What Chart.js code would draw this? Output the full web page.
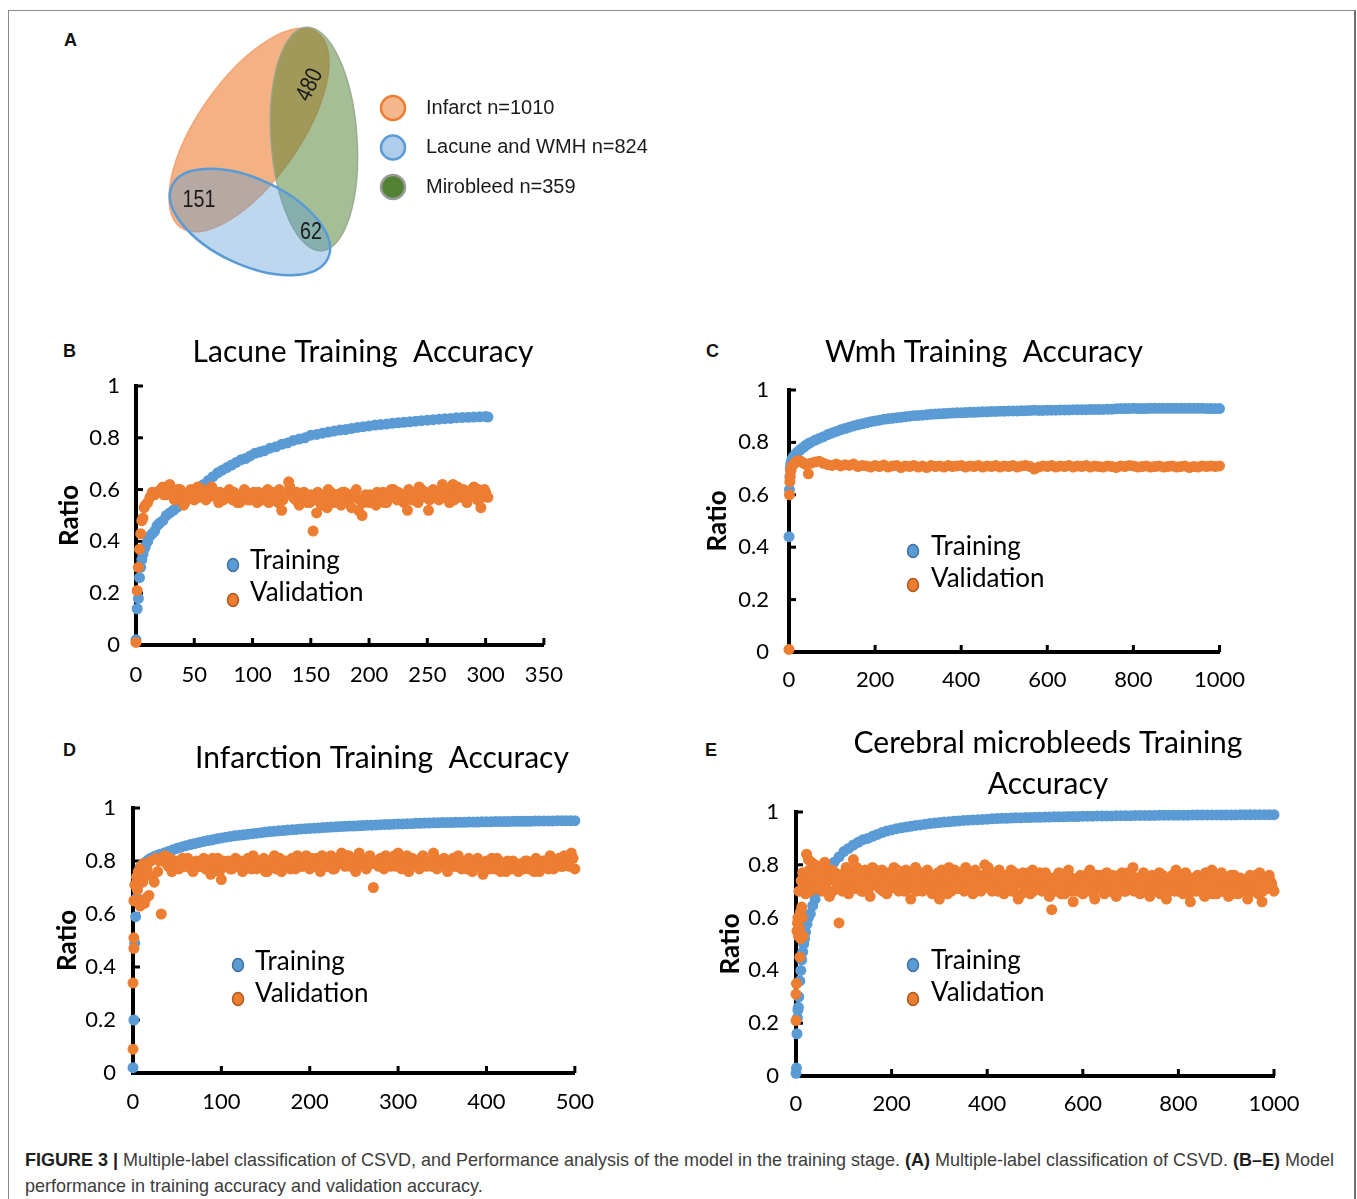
<!DOCTYPE html>
<html>
<head>
<meta charset="utf-8">
<title>Figure 3 - CSVD classification and training accuracy</title>
<script src="https://cdn.jsdelivr.net/npm/chart.js@4.4.1/dist/chart.umd.min.js"></script>
<style>
html,body{margin:0;padding:0;background:#fff;}
body{width:1357px;height:1199px;position:relative;overflow:hidden;font-family:"Liberation Sans",Arial,sans-serif;}
.frame{position:absolute;left:8px;top:10px;width:1348px;height:1260px;box-sizing:border-box;border:1px solid #8a8a8a;border-right:2px solid #6f6f6f;}
.panel{position:absolute;font:bold 18px/1 "Liberation Sans",Arial,sans-serif;color:#111;}
canvas{position:absolute;}
.caption{position:absolute;left:25px;top:1147px;font:18.5px/26px "Liberation Sans",Arial,sans-serif;color:#3c3c3c;white-space:nowrap;transform-origin:0 0;}
.caption b{color:#1e1e1e;}
</style>
</head>
<body>

<div class="frame"></div>

<div class="panel" style="left:64px;top:31px">A</div>
<div class="panel" style="left:63px;top:342px">B</div>
<div class="panel" style="left:706px;top:342px">C</div>
<div class="panel" style="left:63px;top:741px">D</div>
<div class="panel" style="left:705px;top:741px">E</div>

<canvas id="vennChart"></canvas>
<canvas id="lacuneChart"></canvas>
<canvas id="wmhChart"></canvas>
<canvas id="infarctChart"></canvas>
<canvas id="cmbChart"></canvas>

<div class="caption" id="caption"><span id="captionLine1"><b>FIGURE 3 |</b> Multiple-label classification of CSVD, and Performance analysis of the model in the training stage. <b>(A)</b> Multiple-label classification of CSVD. <b>(B–E)</b> Model</span><br>performance in training accuracy and validation accuracy.</div>

<script>
/* =====================================
   FIGURE 3 DATA
===================================== */

const seriesNames = ["Training", "Validation"];
const ratioTicks = [0, 0.2, 0.4, 0.6, 0.8, 1];

const vennLabels = ["Infarct", "Lacune and WMH", "Mirobleed"];
const vennTotals = [1010, 824, 359];
const vennShared = [480, 151, 62];   // infarct+mirobleed, infarct+lacune, lacune+mirobleed

/* ---- B : Lacune ---- */

const lacuneTicks = [0, 50, 100, 150, 200, 250, 300, 350];

const lacuneTrainEpochs = [
    0,1,2,3,4,5,6,7,8,10,
    12,14,16,18,20,23,26,29,32,35,
    38,41,44,47,50,54,58,62,66,70,
    74,78,82,86,90,94,98,102,106,110,
    115,120,125,130,135,140,145,150,155,160,
    165,170,175,180,185,190,195,200,205,210,
    215,220,225,230,235,240,245,250,255,260,
    265,270,275,280,285,290,295,300,302
];
const lacuneTrain = [
    0.02,0.14,0.18,0.26,0.30,0.33,0.35,0.37,0.38,0.40,
    0.42,0.43,0.44,0.46,0.47,0.48,0.50,0.51,0.52,0.53,
    0.55,0.56,0.57,0.58,0.59,0.61,0.62,0.635,0.65,0.665,
    0.675,0.685,0.695,0.705,0.715,0.72,0.73,0.74,0.745,0.75,
    0.76,0.765,0.775,0.78,0.79,0.795,0.80,0.81,0.813,0.818,
    0.822,0.826,0.83,0.832,0.836,0.84,0.843,0.846,0.849,0.851,
    0.853,0.856,0.858,0.86,0.862,0.864,0.866,0.868,0.87,0.872,
    0.874,0.875,0.877,0.878,0.879,0.88,0.881,0.882,0.88
];
const lacuneValEpochs = [
    0,1,2,3,4,5,6,7,8,10,12,14,16,18,
    20,23,26,29,32,35,38,41,44,47,
    50,53,56,59,62,65,68,71,74,77,
    80,83,86,89,92,95,98,101,104,107,
    110,113,116,119,122,125,128,131,134,137,
    140,143,146,149,152,155,158,161,164,167,
    170,173,176,179,182,185,188,191,194,197,
    200,203,206,209,212,215,218,221,224,227,
    230,233,236,239,242,245,248,251,254,257,
    260,263,266,269,272,275,278,281,284,287,
    290,293,296,299,302
];
const lacuneVal = [
    0.01,0.21,0.30,0.37,0.43,0.48,0.49,0.53,0.54,0.55,0.57,0.59,0.58,0.59,
    0.59,0.61,0.58,0.62,0.59,0.57,0.60,0.54,0.58,0.60,
    0.56,0.61,0.58,0.59,0.57,0.61,0.59,0.55,0.58,0.57,
    0.60,0.56,0.58,0.55,0.57,0.58,0.56,0.59,0.55,0.58,
    0.57,0.60,0.56,0.58,0.55,0.52,0.58,0.63,0.59,0.56,
    0.54,0.58,0.57,0.55,0.44,0.51,0.58,0.56,0.53,0.59,
    0.55,0.58,0.54,0.59,0.56,0.53,0.57,0.52,0.50,0.58,
    0.55,0.57,0.54,0.56,0.59,0.55,0.57,0.60,0.56,0.58,
    0.55,0.52,0.59,0.57,0.55,0.60,0.58,0.52,0.57,0.59,
    0.56,0.62,0.58,0.55,0.62,0.59,0.57,0.60,0.55,0.58,
    0.61,0.56,0.53,0.60,0.57
];
// the epochs in between
const lacuneValEpochs2 = [
    21,24,27,30,33,36,39,42,45,48,
    51,54,57,60,63,66,69,72,75,78,
    81,84,87,90,93,96,99,102,105,108,
    111,114,117,120,123,126,129,132,135,138,
    141,144,147,150,153,156,159,162,165,168,
    171,174,177,180,183,186,189,192,195,198,
    201,204,207,210,213,216,219,222,225,228,
    231,234,237,240,243,246,249,252,255,258,
    261,264,267,270,273,276,279,282,285,288,
    291,294,297,300
];
const lacuneVal2 = [
    0.60,0.58,0.61,0.59,0.56,0.60,0.58,0.55,0.59,0.57,
    0.59,0.57,0.60,0.56,0.58,0.60,0.57,0.59,0.56,0.58,
    0.57,0.59,0.55,0.58,0.60,0.56,0.58,0.57,0.59,0.56,
    0.58,0.55,0.59,0.57,0.60,0.56,0.58,0.61,0.57,0.59,
    0.57,0.59,0.55,0.58,0.56,0.59,0.54,0.57,0.60,0.56,
    0.58,0.56,0.59,0.55,0.58,0.57,0.60,0.56,0.55,0.57,
    0.58,0.56,0.59,0.57,0.55,0.58,0.60,0.57,0.59,0.56,
    0.58,0.60,0.56,0.58,0.61,0.57,0.59,0.56,0.60,0.58,
    0.59,0.57,0.60,0.58,0.56,0.61,0.58,0.59,0.57,0.60,
    0.58,0.60,0.57,0.59
];

/* ---- C : Wmh ---- */

const wmhTicks = [0, 200, 400, 600, 800, 1000];

const wmhEpochs = [
    0,1,2,3,4,5,7,10,13,16,
    20,25,30,35,40,45,50,60,70,80,
    90,100,110,120,130,140,150,160,170,180,
    190,200,210,220,230,240,250,260,270,280,
    290,300,310,320,330,340,350,360,370,380,
    390,400,410,420,430,440,450,460,470,480,
    490,500,510,520,530,540,550,560,570,580,
    590,600,610,620,630,640,650,660,670,680,
    690,700,710,720,730,740,750,760,770,780,
    790,800,810,820,830,840,850,860,870,880,
    890,900,910,920,930,940,950,960,970,980,
    990,1000
];
const wmhTrain = [
    0.44,0.62,0.67,0.70,0.715,0.725,0.735,0.745,0.75,0.757,
    0.763,0.77,0.777,0.783,0.79,0.795,0.80,0.808,0.815,0.822,
    0.83,0.836,0.842,0.848,0.853,0.858,0.863,0.867,0.871,0.875,
    0.879,0.882,0.885,0.888,0.89,0.892,0.894,0.896,0.898,0.90,
    0.902,0.903,0.904,0.906,0.907,0.908,0.909,0.91,0.911,0.912,
    0.913,0.913,0.914,0.915,0.915,0.916,0.917,0.917,0.918,0.918,
    0.919,0.919,0.92,0.92,0.92,0.921,0.921,0.922,0.923,0.922,
    0.922,0.923,0.923,0.923,0.924,0.924,0.924,0.925,0.925,0.925,
    0.925,0.926,0.926,0.926,0.926,0.927,0.927,0.928,0.929,0.929,
    0.929,0.93,0.929,0.929,0.929,0.93,0.93,0.93,0.93,0.93,
    0.93,0.93,0.93,0.93,0.93,0.93,0.93,0.93,0.929,0.929,
    0.929,0.929
];
const wmhVal = [
    0.01,0.60,0.65,0.67,0.69,0.70,0.71,0.715,0.72,0.725,
    0.73,0.73,0.725,0.72,0.715,0.68,0.72,0.725,0.728,0.72,
    0.715,0.712,0.718,0.71,0.715,0.712,0.718,0.708,0.712,0.71,
    0.706,0.712,0.708,0.714,0.706,0.71,0.712,0.704,0.71,0.708,
    0.712,0.706,0.71,0.704,0.712,0.708,0.71,0.706,0.712,0.708,
    0.71,0.712,0.706,0.71,0.708,0.712,0.706,0.71,0.708,0.712,
    0.706,0.71,0.708,0.712,0.706,0.71,0.712,0.708,0.698,0.706,
    0.71,0.708,0.712,0.706,0.71,0.708,0.712,0.706,0.71,0.708,
    0.712,0.706,0.71,0.708,0.706,0.71,0.708,0.704,0.71,0.708,
    0.712,0.71,0.706,0.708,0.71,0.706,0.708,0.71,0.706,0.708,
    0.71,0.706,0.708,0.71,0.704,0.708,0.706,0.71,0.708,0.71,
    0.708,0.71
];

/* ---- D : Infarction ---- */

const infarctTicks = [0, 100, 200, 300, 400, 500];

const infarctTrainEpochs = [
    0,1,2,3,4,5,6,7,8,10,
    12,14,16,18,20,23,26,30,35,40,
    45,50,55,60,65,70,75,80,85,90,
    95,100,105,110,115,120,125,130,135,140,
    145,150,155,160,165,170,175,180,185,190,
    195,200,205,210,215,220,225,230,235,240,
    245,250,255,260,265,270,275,280,285,290,
    295,300,305,310,315,320,325,330,335,340,
    345,350,355,360,365,370,375,380,385,390,
    395,400,405,410,415,420,425,430,435,440,
    445,450,455,460,465,470,475,480,485,490,
    495,500
];
const infarctTrain = [
    0.02,0.20,0.49,0.59,0.66,0.70,0.74,0.76,0.775,0.785,
    0.79,0.795,0.80,0.806,0.81,0.815,0.82,0.825,0.83,0.836,
    0.842,0.848,0.853,0.858,0.862,0.866,0.87,0.874,0.877,0.88,
    0.884,0.887,0.89,0.892,0.895,0.897,0.899,0.901,0.903,0.905,
    0.907,0.909,0.911,0.912,0.914,0.915,0.917,0.918,0.919,0.921,
    0.922,0.923,0.924,0.925,0.926,0.927,0.928,0.929,0.93,0.931,
    0.932,0.932,0.933,0.934,0.935,0.935,0.936,0.937,0.938,0.938,
    0.939,0.94,0.94,0.941,0.941,0.942,0.942,0.943,0.943,0.944,
    0.944,0.945,0.945,0.945,0.946,0.946,0.946,0.947,0.947,0.947,
    0.948,0.948,0.948,0.949,0.949,0.949,0.949,0.95,0.95,0.95,
    0.95,0.95,0.951,0.951,0.951,0.951,0.951,0.952,0.952,0.952,
    0.952,0.952
];
const infarctValEpochs = [
    0,0,1,1,1,2,3,4,5,6,7,8,9,10,
    11,12,13,14,15,16,18,20,22,24,26,28,30,32,
    36,40,44,48,52,56,60,64,68,72,
    76,80,84,88,92,96,100,104,108,112,
    116,120,124,128,132,136,140,144,148,152,
    156,160,164,168,172,176,180,184,188,192,
    196,200,204,208,212,216,220,224,228,232,
    236,240,244,248,252,256,260,264,268,272,
    276,280,284,288,292,296,300,304,308,312,
    316,320,324,328,332,336,340,344,348,352,
    356,360,364,368,372,376,380,384,388,392,
    396,400,404,408,412,416,420,424,428,432,
    436,440,444,448,452,456,460,464,468,472,
    476,480,484,488,492,496,500
];
const infarctVal = [
    0.09,0.34,0.47,0.51,0.65,0.71,0.65,0.74,0.69,0.76,0.73,0.63,0.78,0.65,
    0.72,0.79,0.64,0.75,0.66,0.77,0.67,0.80,0.74,0.72,0.81,0.76,0.80,0.60,
    0.82,0.78,0.76,0.80,0.77,0.81,0.78,0.79,0.76,0.80,
    0.78,0.81,0.77,0.75,0.79,0.81,0.73,0.78,0.80,0.77,
    0.81,0.79,0.76,0.80,0.78,0.82,0.77,0.79,0.81,0.76,
    0.80,0.82,0.78,0.76,0.80,0.79,0.81,0.77,0.80,0.78,
    0.82,0.77,0.79,0.81,0.76,0.80,0.78,0.82,0.77,0.80,
    0.83,0.78,0.82,0.79,0.76,0.83,0.80,0.77,0.82,0.70,
    0.79,0.81,0.77,0.80,0.78,0.82,0.83,0.77,0.80,0.76,
    0.81,0.79,0.77,0.82,0.78,0.80,0.83,0.77,0.79,0.81,
    0.76,0.80,0.78,0.82,0.77,0.79,0.81,0.76,0.80,0.78,
    0.75,0.80,0.77,0.79,0.81,0.76,0.78,0.80,0.77,0.79,
    0.76,0.78,0.80,0.77,0.79,0.81,0.76,0.80,0.78,0.82,
    0.77,0.80,0.78,0.82,0.79,0.83,0.77
];
const infarctValEpochs2 = [
    38,42,46,50,54,58,62,66,70,74,
    78,82,86,90,94,98,102,106,110,114,
    118,122,126,130,134,138,142,146,150,154,
    158,162,166,170,174,178,182,186,190,194,
    198,202,206,210,214,218,222,226,230,234,
    238,242,246,250,254,258,262,266,270,274,
    278,282,286,290,294,298,302,306,310,314,
    318,322,326,330,334,338,342,346,350,354,
    358,362,366,370,374,378,382,386,390,394,
    398,402,406,410,414,418,422,426,430,434,
    438,442,446,450,454,458,462,466,470,474,
    478,482,486,490,494,498
];
const infarctVal2 = [
    0.79,0.81,0.77,0.79,0.80,0.78,0.81,0.77,0.79,0.78,
    0.80,0.77,0.79,0.81,0.78,0.76,0.80,0.79,0.77,0.80,
    0.78,0.80,0.79,0.81,0.77,0.79,0.80,0.78,0.76,0.80,
    0.79,0.77,0.81,0.78,0.80,0.77,0.79,0.82,0.78,0.80,
    0.79,0.81,0.78,0.80,0.82,0.78,0.80,0.77,0.81,0.79,
    0.80,0.82,0.78,0.81,0.79,0.80,0.78,0.81,0.79,0.80,
    0.78,0.80,0.82,0.79,0.81,0.78,0.80,0.79,0.82,0.78,
    0.80,0.78,0.81,0.79,0.80,0.78,0.81,0.79,0.80,0.78,
    0.79,0.81,0.78,0.80,0.79,0.77,0.80,0.78,0.81,0.79,
    0.78,0.79,0.81,0.77,0.80,0.78,0.76,0.79,0.80,0.78,
    0.79,0.77,0.80,0.78,0.76,0.79,0.78,0.80,0.77,0.79,
    0.79,0.81,0.78,0.80,0.78,0.81
];

/* ---- E : Cerebral microbleeds ---- */

const cmbTicks = [0, 200, 400, 600, 800, 1000];

const cmbTrainEpochs = [
    0,1,2,3,4,5,6,8,10,12,
    14,16,18,20,23,26,30,35,40,45,
    50,55,60,65,70,75,80,90,100,110,
    120,130,140,150,160,170,180,190,200,210,
    220,230,240,250,260,270,280,290,300,310,
    320,330,340,350,360,370,380,390,400,410,
    420,430,440,450,460,470,480,490,500,510,
    520,530,540,550,560,570,580,590,600,610,
    620,630,640,650,660,670,680,690,700,710,
    720,730,740,750,760,770,780,790,800,810,
    820,830,840,850,860,870,880,890,900,910,
    920,930,940,950,960,970,980,990,1000
];
const cmbTrain = [
    0.01,0.03,0.16,0.22,0.25,0.26,0.30,0.36,0.40,0.44,
    0.47,0.50,0.52,0.545,0.575,0.60,0.615,0.645,0.67,0.70,
    0.72,0.735,0.75,0.765,0.78,0.795,0.81,0.83,0.85,0.862,
    0.875,0.885,0.895,0.90,0.908,0.915,0.922,0.928,0.932,0.937,
    0.94,0.943,0.946,0.949,0.951,0.954,0.956,0.958,0.96,0.962,
    0.963,0.965,0.966,0.968,0.969,0.97,0.971,0.972,0.973,0.974,
    0.975,0.976,0.976,0.977,0.978,0.978,0.979,0.979,0.98,0.98,
    0.981,0.981,0.982,0.982,0.982,0.983,0.983,0.983,0.984,0.984,
    0.984,0.985,0.985,0.985,0.985,0.986,0.986,0.986,0.986,0.987,
    0.987,0.987,0.987,0.987,0.988,0.988,0.988,0.988,0.988,0.988,
    0.988,0.989,0.989,0.989,0.989,0.989,0.989,0.989,0.989,0.989,
    0.989,0.99,0.99,0.99,0.99,0.99,0.99,0.99,0.99
];
const cmbValEpochs = [
    0,0,1,2,3,4,5,6,7,8,
    9,10,11,12,13,14,15,16,18,20,
    22,24,26,28,30,32,34,36,38,
    40,45,50,55,60,65,70,75,80,85,
    90,95,100,105,110,115,120,125,130,135,
    140,145,150,155,160,165,170,175,180,185,
    190,195,200,205,210,215,220,225,230,235,
    240,245,250,255,260,265,270,275,280,285,
    290,295,300,305,310,315,320,325,330,335,
    340,345,350,355,360,365,370,375,380,385,
    390,395,400,405,410,415,420,425,430,435,
    440,445,450,455,460,465,470,475,480,485,
    490,495,500,505,510,515,520,525,530,535,
    540,545,550,555,560,565,570,575,580,585,
    590,595,600,605,610,615,620,625,630,635,
    640,645,650,655,660,665,670,675,680,685,
    690,695,700,705,710,715,720,725,730,735,
    740,745,750,755,760,765,770,775,780,785,
    790,795,800,805,810,815,820,825,830,835,
    840,845,850,855,860,865,870,875,880,885,
    890,895,900,905,910,915,920,925,930,935,
    940,945,950,955,960,965,970,975,980,985,
    990,995,1000
];
const cmbVal = [
    0.21,0.31,0.35,0.55,0.58,0.60,0.53,0.70,0.56,0.45,
    0.62,0.52,0.74,0.64,0.60,0.77,0.53,0.71,0.75,0.69,
    0.84,0.74,0.82,0.78,0.70,0.81,0.76,0.72,0.79,
    0.80,0.73,0.77,0.70,0.81,0.75,0.68,0.78,0.74,0.71,
    0.58,0.76,0.72,0.79,0.69,0.74,0.82,0.71,0.77,0.73,
    0.70,0.78,0.75,0.68,0.79,0.73,0.76,0.71,0.78,0.74,
    0.69,0.77,0.72,0.79,0.74,0.70,0.76,0.73,0.78,0.71,
    0.67,0.75,0.79,0.72,0.77,0.70,0.74,0.78,0.73,0.69,
    0.76,0.71,0.67,0.78,0.74,0.72,0.79,0.70,0.75,0.73,
    0.77,0.71,0.74,0.79,0.72,0.76,0.69,0.78,0.73,0.75,
    0.71,0.80,0.74,0.77,0.70,0.76,0.72,0.78,0.74,0.69,
    0.75,0.72,0.78,0.70,0.76,0.67,0.73,0.77,0.71,0.75,
    0.69,0.78,0.72,0.74,0.77,0.70,0.75,0.72,0.68,0.63,
    0.74,0.71,0.77,0.69,0.75,0.73,0.78,0.70,0.66,0.74,
    0.72,0.76,0.69,0.75,0.71,0.78,0.73,0.67,0.76,0.72,
    0.74,0.69,0.77,0.71,0.75,0.73,0.68,0.76,0.72,0.74,
    0.70,0.77,0.73,0.79,0.71,0.75,0.69,0.76,0.72,0.74,
    0.68,0.76,0.73,0.70,0.77,0.72,0.74,0.67,0.75,0.71,
    0.73,0.78,0.70,0.75,0.69,0.77,0.72,0.66,0.74,0.71,
    0.76,0.70,0.73,0.68,0.75,0.71,0.78,0.72,0.69,0.74,
    0.77,0.71,0.73,0.68,0.76,0.72,0.74,0.69,0.75,0.71,
    0.73,0.67,0.76,0.70,0.74,0.72,0.77,0.66,0.75,0.71,
    0.76,0.73,0.70
];
const cmbValEpochs2 = [
    42,47,52,57,62,67,72,77,82,87,
    92,97,102,107,112,117,122,127,132,137,
    142,147,152,157,162,167,172,177,182,187,
    192,197,202,207,212,217,222,227,232,237,
    242,247,252,257,262,267,272,277,282,287,
    292,297,302,307,312,317,322,327,332,337,
    342,347,352,357,362,367,372,377,382,387,
    392,397,402,407,412,417,422,427,432,437,
    442,447,452,457,462,467,472,477,482,487,
    492,497,502,507,512,517,522,527,532,537,
    542,547,552,557,562,567,572,577,582,587,
    592,597,602,607,612,617,622,627,632,637,
    642,647,652,657,662,667,672,677,682,687,
    692,697,702,707,712,717,722,727,732,737,
    742,747,752,757,762,767,772,777,782,787,
    792,797,802,807,812,817,822,827,832,837,
    842,847,852,857,862,867,872,877,882,887,
    892,897,902,907,912,917,922,927,932,937,
    942,947,952,957,962,967,972,977,982,987,
    992,997
];
const cmbVal2 = [
    0.76,0.71,0.79,0.74,0.72,0.78,0.75,0.70,0.77,0.73,
    0.74,0.70,0.77,0.73,0.78,0.72,0.75,0.79,0.74,0.70,
    0.76,0.73,0.71,0.77,0.74,0.78,0.72,0.75,0.70,0.76,
    0.74,0.71,0.76,0.72,0.78,0.73,0.75,0.70,0.74,0.77,
    0.72,0.76,0.70,0.74,0.73,0.77,0.71,0.75,0.76,0.72,
    0.73,0.77,0.70,0.74,0.76,0.69,0.75,0.72,0.78,0.71,
    0.74,0.77,0.70,0.75,0.73,0.71,0.76,0.72,0.75,0.70,
    0.76,0.73,0.79,0.71,0.74,0.77,0.70,0.75,0.72,0.76,
    0.71,0.74,0.70,0.77,0.73,0.75,0.69,0.74,0.72,0.77,
    0.73,0.70,0.76,0.71,0.74,0.72,0.77,0.70,0.75,0.73,
    0.70,0.76,0.72,0.74,0.69,0.77,0.71,0.75,0.72,0.70,
    0.75,0.71,0.74,0.70,0.77,0.72,0.69,0.75,0.71,0.76,
    0.71,0.75,0.72,0.70,0.76,0.69,0.74,0.71,0.77,0.70,
    0.74,0.72,0.76,0.70,0.75,0.71,0.73,0.77,0.70,0.75,
    0.72,0.70,0.75,0.74,0.69,0.76,0.71,0.73,0.70,0.76,
    0.70,0.74,0.72,0.76,0.71,0.73,0.69,0.75,0.72,0.70,
    0.73,0.75,0.70,0.77,0.72,0.74,0.69,0.76,0.71,0.73,
    0.70,0.75,0.72,0.74,0.69,0.76,0.71,0.73,0.70,0.74,
    0.72,0.70,0.74,0.71,0.76,0.69,0.73,0.70,0.75,0.72,
    0.74,0.71
];

/* =====================================
   STYLE
===================================== */

const BLUE = "#5B9BD5";
const BLUE_EDGE = "#41719C";
const ORANGE = "#ED7D31";
const ORANGE_EDGE = "#AE5A21";
const FONT = "Lato";
const DOT = 5.5;

/* =====================================
   PANEL LAYOUT (page pixels)
===================================== */

const panels = [
    {
        id: "lacuneChart",
        title: ["Lacune Training  Accuracy"],
        xMax: 350, xTicks: lacuneTicks,
        trainX: lacuneTrainEpochs, trainY: lacuneTrain,
        valX: lacuneValEpochs.concat(lacuneValEpochs2), valY: lacuneVal.concat(lacuneVal2),
        box: { left: 50, top: 325, width: 530, height: 385 },
        area: { left: 136, top: 386, right: 546, bottom: 645 },
        titleX: 363, titleY: [352],
        ratioX: 70, yPad: 16, xPad: 17,
        legend: { x: 233, y: 565, gap: 35, textX: 250, textY: 561, textGap: 32 }
    },
    {
        id: "wmhChart",
        title: ["Wmh Training  Accuracy"],
        xMax: 1000, xTicks: wmhTicks,
        trainX: wmhEpochs, trainY: wmhTrain,
        valX: wmhEpochs, valY: wmhVal,
        box: { left: 700, top: 325, width: 560, height: 385 },
        area: { left: 789, top: 390, right: 1222, bottom: 652 },
        titleX: 984, titleY: [352],
        ratioX: 718, yPad: 20, xPad: 15,
        legend: { x: 913, y: 551, gap: 34, textX: 931, textY: 547, textGap: 32 }
    },
    {
        id: "infarctChart",
        title: ["Infarction Training  Accuracy"],
        xMax: 500, xTicks: infarctTicks,
        trainX: infarctTrainEpochs, trainY: infarctTrain,
        valX: infarctValEpochs.concat(infarctValEpochs2), valY: infarctVal.concat(infarctVal2),
        box: { left: 50, top: 720, width: 560, height: 410 },
        area: { left: 133, top: 808, right: 587, bottom: 1073 },
        titleX: 382, titleY: [758],
        ratioX: 68, yPad: 17, xPad: 16,
        legend: { x: 238, y: 965, gap: 34, textX: 255, textY: 962, textGap: 32 }
    },
    {
        id: "cmbChart",
        title: ["Cerebral microbleeds Training", "Accuracy"],
        xMax: 1000, xTicks: cmbTicks,
        trainX: cmbTrainEpochs, trainY: cmbTrain,
        valX: cmbValEpochs.concat(cmbValEpochs2), valY: cmbVal.concat(cmbVal2),
        box: { left: 700, top: 715, width: 620, height: 415 },
        area: { left: 796, top: 812, right: 1274, bottom: 1076 },
        titleX: 1048, titleY: [743, 784],
        ratioX: 731, yPad: 17, xPad: 15,
        legend: { x: 913, y: 965, gap: 34, textX: 931, textY: 961, textGap: 32 }
    }
];

/* =====================================
   START
===================================== */

document.addEventListener("DOMContentLoaded", () => {

    fitCaption();

    initializeVennChart();

    panels.forEach(makeAccuracyChart);

});

/* =====================================
   HELPERS
===================================== */

function toPoints(xs, ys){

    return xs.map((x, i) => ({ x: x, y: ys[i] }));

}

function placeCanvas(canvas, box){

    canvas.width = box.width;
    canvas.height = box.height;
    canvas.style.left = box.left + "px";
    canvas.style.top = box.top + "px";
    canvas.style.width = box.width + "px";
    canvas.style.height = box.height + "px";

}

// the printed caption is set in a condensed face, squeeze ours to the same line length
function fitCaption(){

    const caption = document.getElementById("caption");
    const line = document.getElementById("captionLine1");

    if(!caption || !line) return;

    const w = line.getBoundingClientRect().width;

    if(w > 0) caption.style.transform = "scaleX(" + (1309 / w) + ")";

}

/* =====================================
   ACCURACY SCATTER CHARTS (B-E)
===================================== */

function makeAccuracyChart(p){

    const canvas = document.getElementById(p.id);

    if(!canvas) return;

    placeCanvas(canvas, p.box);

    const padTop = p.area.top - p.box.top;
    const padRight = p.box.left + p.box.width - p.area.right;
    const yWidth = p.area.left - p.box.left;
    const xHeight = p.box.top + p.box.height - p.area.bottom;

    // small tick marks pointing into the plot
    const innerTicks = {
        id: "innerTicks",
        beforeDatasetsDraw(chart){
            const { ctx, chartArea, scales } = chart;
            ctx.save();
            ctx.strokeStyle = "#000";
            ctx.lineWidth = 3;
            scales.x.ticks.forEach(t => {
                const px = scales.x.getPixelForValue(t.value);
                ctx.beginPath();
                ctx.moveTo(px, chartArea.bottom);
                ctx.lineTo(px, chartArea.bottom - 7);
                ctx.stroke();
            });
            scales.y.ticks.forEach(t => {
                const py = scales.y.getPixelForValue(t.value);
                ctx.beginPath();
                ctx.moveTo(chartArea.left, py);
                ctx.lineTo(chartArea.left + 7, py);
                ctx.stroke();
            });
            ctx.restore();
        }
    };

    const panelTitle = {
        id: "panelTitle",
        afterDraw(chart){
            const ctx = chart.ctx;
            ctx.save();
            ctx.font = "30px " + FONT;
            ctx.fillStyle = "#000";
            ctx.textAlign = "center";
            ctx.textBaseline = "middle";
            p.title.forEach((line, i) => {
                ctx.fillText(line, p.titleX - p.box.left, p.titleY[i] - p.box.top);
            });
            ctx.restore();
        }
    };

    const insideLegend = {
        id: "insideLegend",
        afterDraw(chart){
            const ctx = chart.ctx;
            const lg = p.legend;
            const edges = [BLUE_EDGE, ORANGE_EDGE];
            ctx.save();
            chart.data.datasets.forEach((ds, i) => {
                const mx = lg.x - p.box.left;
                const my = lg.y - p.box.top + i * lg.gap;
                ctx.beginPath();
                ctx.ellipse(mx, my, 5.5, 6.5, 0, 0, Math.PI * 2);
                ctx.fillStyle = ds.backgroundColor;
                ctx.fill();
                ctx.lineWidth = 1.5;
                ctx.strokeStyle = edges[i];
                ctx.stroke();
                ctx.fillStyle = "#000";
                ctx.font = "26px " + FONT;
                ctx.textAlign = "left";
                ctx.textBaseline = "middle";
                ctx.fillText(ds.label, lg.textX - p.box.left, lg.textY - p.box.top + i * lg.textGap);
            });
            ctx.restore();
        }
    };

    new Chart(canvas, {

        type: "scatter",

        data: {
            datasets: [
                {
                    label: seriesNames[0],
                    data: toPoints(p.trainX, p.trainY),
                    backgroundColor: BLUE,
                    pointRadius: DOT,
                    pointBorderWidth: 0,
                    order: 1,
                    clip: false
                },
                {
                    label: seriesNames[1],
                    data: toPoints(p.valX, p.valY),
                    backgroundColor: ORANGE,
                    pointRadius: DOT,
                    pointBorderWidth: 0,
                    order: 0,
                    clip: false
                }
            ]
        },

        options: {

            responsive: false,
            animation: false,
            devicePixelRatio: 1,
            events: [],

            layout: {
                padding: { top: padTop, right: padRight, left: 0, bottom: 0 }
            },

            plugins: {
                legend: { display: false },
                tooltip: { enabled: false },
                title: { display: false }
            },

            scales: {

                x: {
                    type: "linear",
                    min: 0,
                    max: p.xMax,
                    afterBuildTicks: s => { s.ticks = p.xTicks.map(v => ({ value: v })); },
                    afterFit: s => { s.height = xHeight; },
                    ticks: {
                        color: "#000",
                        padding: p.xPad,
                        autoSkip: false,
                        maxRotation: 0,
                        font: { family: FONT, size: 22 },
                        callback: v => String(v)
                    },
                    grid: { drawOnChartArea: false, drawTicks: false },
                    border: { color: "#000", width: 4 }
                },

                y: {
                    type: "linear",
                    min: 0,
                    max: 1,
                    afterBuildTicks: s => { s.ticks = ratioTicks.map(v => ({ value: v })); },
                    afterFit: s => { s.width = yWidth; },
                    ticks: {
                        color: "#000",
                        padding: p.yPad,
                        autoSkip: false,
                        font: { family: FONT, size: 22 },
                        callback: v => String(v)
                    },
                    grid: { drawOnChartArea: false, drawTicks: false },
                    border: { color: "#000", width: 4 },
                    title: {
                        display: true,
                        text: "Ratio",
                        color: "#000",
                        font: { family: FONT, size: 26, weight: "bold", lineHeight: 1.2 },
                        padding: { top: p.ratioX - p.box.left - 15.6, bottom: 0 }
                    }
                }

            }

        },

        plugins: [innerTicks, panelTitle, insideLegend]

    });

}

/* =====================================
   VENN DIAGRAM (A)
===================================== */

function initializeVennChart(){

    const canvas = document.getElementById("vennChart");

    if(!canvas) return;

    const box = { left: 0, top: 0, width: 700, height: 320 };

    placeCanvas(canvas, box);

    // ellipse geometry in panel pixels
    const shapes = [
        { cx: 249, cy: 130, rx: 119, ry: 51, rot: -55, fill: "rgba(237,125,49,0.6)", edge: "rgba(242,160,110,0.9)", lw: 1.5 },
        { cx: 314, cy: 139, rx: 43, ry: 112, rot: -4, fill: "rgba(84,130,53,0.52)", edge: "rgba(150,165,140,0.9)", lw: 1.5 },
        { cx: 250, cy: 222, rx: 86, ry: 43, rot: 25, fill: "rgba(91,155,213,0.4)", edge: "#5B9BD5", lw: 2.5 }
    ];

    const countSpots = [
        { x: 310, y: 85, rot: -64 },
        { x: 199, y: 200, rot: 0 },
        { x: 311, y: 232, rot: 0 }
    ];

    const legendMarks = [
        { fill: "rgba(237,125,49,0.55)", edge: "#ED7D31" },
        { fill: "rgba(91,155,213,0.5)", edge: "#5B9BD5" },
        { fill: "#548235", edge: "#9a9a9a" }
    ];

    const vennPlugin = {
        id: "venn",
        afterDraw(chart){
            const { ctx, scales } = chart;
            const px = v => scales.x.getPixelForValue(v);
            const py = v => scales.y.getPixelForValue(v);

            ctx.save();

            shapes.forEach(s => {
                ctx.beginPath();
                ctx.ellipse(px(s.cx), py(s.cy), px(s.cx + s.rx) - px(s.cx), py(s.cy + s.ry) - py(s.cy), s.rot * Math.PI / 180, 0, Math.PI * 2);
                ctx.fillStyle = s.fill;
                ctx.fill();
                ctx.lineWidth = s.lw;
                ctx.strokeStyle = s.edge;
                ctx.stroke();
            });

            // counts: tall narrow digits
            ctx.fillStyle = "#1a1a1a";
            ctx.font = "24px 'Liberation Sans', Arial, sans-serif";
            ctx.textAlign = "center";
            ctx.textBaseline = "middle";
            vennShared.forEach((n, i) => {
                const c = countSpots[i];
                ctx.save();
                ctx.translate(px(c.x), py(c.y));
                ctx.rotate(c.rot * Math.PI / 180);
                ctx.scale(0.82, 1);
                ctx.fillText(String(n), 0, 0);
                ctx.restore();
            });

            ctx.font = "20px 'Liberation Sans', Arial, sans-serif";
            ctx.textAlign = "left";
            vennLabels.forEach((label, i) => {
                const y = py(108 + i * 39.5);
                ctx.beginPath();
                ctx.arc(px(393), y, 12, 0, Math.PI * 2);
                ctx.fillStyle = legendMarks[i].fill;
                ctx.fill();
                ctx.lineWidth = 2.5;
                ctx.strokeStyle = legendMarks[i].edge;
                ctx.stroke();
                ctx.fillStyle = "#1a1a1a";
                ctx.fillText(label + " n=" + vennTotals[i], px(426), y);
            });

            ctx.restore();
        }
    };

    new Chart(canvas, {

        type: "scatter",

        data: { datasets: [] },

        options: {
            responsive: false,
            animation: false,
            devicePixelRatio: 1,
            events: [],
            layout: { padding: 0 },
            plugins: {
                legend: { display: false },
                tooltip: { enabled: false }
            },
            scales: {
                x: { type: "linear", display: false, min: 0, max: box.width },
                y: { type: "linear", display: false, min: 0, max: box.height, reverse: true }
            }
        },

        plugins: [vennPlugin]

    });

}
</script>
</body>
</html>
